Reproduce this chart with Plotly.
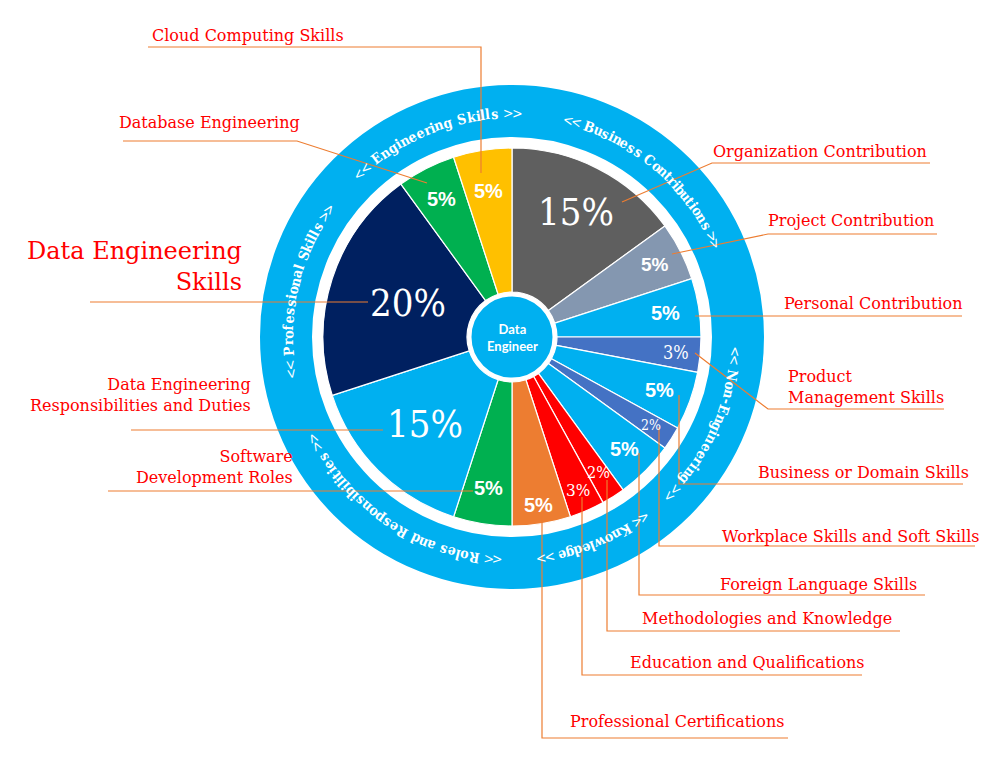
import math
import plotly.graph_objects as go

# ---------------- data ----------------
categories = [
    "Organization Contribution", "Project Contribution", "Personal Contribution",
    "Product Management Skills", "Business or Domain Skills",
    "Workplace Skills and Soft Skills", "Foreign Language Skills",
    "Methodologies and Knowledge", "Education and Qualifications",
    "Professional Certifications", "Software Development Roles",
    "Data Engineering Responsibilities and Duties", "Data Engineering Skills",
    "Database Engineering", "Cloud Computing Skills",
]
shares = [15, 5, 5, 3, 5, 2, 5, 2, 3, 5, 5, 15, 20, 5, 5]
display_labels = [
    "Organization Contribution", "Project Contribution", "Personal Contribution",
    "Product<br>Management Skills", "Business or Domain Skills",
    "Workplace Skills and Soft Skills", "Foreign Language Skills",
    "Methodologies and Knowledge", "Education and Qualifications",
    "Professional Certifications", "Software<br>Development Roles",
    "Data Engineering<br>Responsibilities and Duties", "Data Engineering<br>Skills",
    "Database Engineering", "Cloud Computing Skills",
]
group_labels = [
    "<< Business Contributions >>", "<< Non-Engineering >>", "<< Knowledge >>",
    "<< Roles and Responsibilities >>", "<< Professional Skills >>",
    "<< Engineering Skills >>",
]
center_label = "Data<br>Engineer"

# ---------------- styles / layout ----------------
W, H = 989, 758
CX, CY = 512, 337
R_PIE, R_HOLE, R_CENTER = 189, 45, 42
RING_MID, RING_W, TEXT_R = 226, 52, 224

LIGHT = "#00b0f0"
slice_colors = ["#5f5f5f", "#8497b0", LIGHT, "#4472c4", LIGHT, "#4472c4", LIGHT,
                "#ff0000", "#ff0000", "#ed7d31", "#00b050", LIGHT, "#002060",
                "#00b050", "#ffc000"]
pct_r = [0.74, 0.85, 0.82, 0.87, 0.83, 0.87, 0.84, 0.85, 0.88, 0.90, 0.81, 0.65, 0.58, 0.82, 0.78]
pct_size = [38, 19, 20, 18, 20, 14, 20, 16, 17, 20, 20, 38, 38, 20, 20]
pct_kind = ["light", "bold", "bold", "serif", "bold", "serif", "bold", "serif", "serif",
            "bold", "bold", "light", "light", "bold", "bold"]

PCT_SERIF = "DejaVu Serif Condensed, DejaVu Serif, serif"
SERIF = "DejaVu Serif, serif"
RING_FONT = "DejaVu Serif Condensed, DejaVu Serif, serif"
BOLD_SANS = "Liberation Sans, Arial, sans-serif"
RED = "#ff0000"
LEADER = "#ed7d31"

label_pos = [
    (711, 151, "left", 16), (766, 220, "left", 16), (782, 303, "left", 16),
    (786, 387, "left", 16), (756, 472, "left", 16), (720, 536, "left", 16),
    (718, 584, "left", 16), (640, 618, "left", 16), (628, 662, "left", 16),
    (568, 721, "left", 16), (295, 467, "right", 16), (253, 395, "right", 16),
    (244, 266, "right", 24), (117, 122, "left", 16), (150, 35, "left", 16),
]
leader_paths = [
    "M930,163 L712,163 L622,202",
    "M937,234 L768,234 L672,254",
    "M962,316 L695,316",
    "M944,409 L768,409 L695,353",
    "M963,484 L679,484 L679,395",
    "M975,546 L659,546 L659,427",
    "M925,595 L639,595 L639,453",
    "M900,631 L607,631 L607,480",
    "M862,675 L582,675 L582,497",
    "M788,738 L542,738 L542,516",
    "M108,491 L473,491",
    "M131,430 L383,430",
    "M90,302 L368,302",
    "M123,141 L297,141 L427,183",
    "M148,47 L481,47 L481,173",
]
ring_span = [(14.6, 65.4), (93.8, 135.4), (143.8, 172.5), (183.8, 243.0),
             (260.7, 305.0), (316.8, 361.3)]

fig = go.Figure()
fig.add_trace(go.Scatter(x=[0, W], y=[0, H], mode="markers",
                         marker=dict(opacity=0), hoverinfo="skip", showlegend=False))
fig.add_trace(go.Pie(
    labels=categories, values=shares, sort=False, direction="clockwise", rotation=0,
    hole=R_HOLE / R_PIE, textinfo="none", hoverinfo="label+percent",
    marker=dict(colors=slice_colors, line=dict(color="white", width=1.2)),
    domain=dict(x=[(CX - R_PIE) / W, (CX + R_PIE) / W],
                y=[1 - (CY + R_PIE) / H, 1 - (CY - R_PIE) / H]),
    showlegend=False,
))

shapes = []
shapes.append(dict(type="circle", xref="x", yref="y", layer="below",
                   x0=CX - RING_MID, x1=CX + RING_MID, y0=CY - RING_MID, y1=CY + RING_MID,
                   line=dict(color=LIGHT, width=RING_W)))
shapes.append(dict(type="circle", xref="x", yref="y", layer="above",
                   x0=CX - R_CENTER, x1=CX + R_CENTER, y0=CY - R_CENTER, y1=CY + R_CENTER,
                   fillcolor=LIGHT, line=dict(color="white", width=3)))
for p in leader_paths:
    shapes.append(dict(type="path", xref="x", yref="y", layer="above", path=p,
                       line=dict(color=LEADER, width=1.2)))

annotations = []
annotations.append(dict(x=CX, y=CY, xref="x", yref="y", text="<b>" + center_label + "</b>",
                        showarrow=False, font=dict(family="Lato, Open Sans, sans-serif",
                                                   size=13, color="white"),
                        align="center"))
total = sum(shares)
cum = 0
for i, v in enumerate(shares):
    mid = (cum + v / 2) / total * 2 * math.pi
    cum += v
    r = pct_r[i] * R_PIE
    x = CX + r * math.sin(mid)
    y = CY - r * math.cos(mid)
    if pct_kind[i] == "bold":
        txt, fam = "<b>%d%%</b>" % v, BOLD_SANS
    else:
        txt, fam = "%d%%" % v, PCT_SERIF
    annotations.append(dict(x=x, y=y, xref="x", yref="y", text=txt, showarrow=False,
                            font=dict(family=fam, size=pct_size[i], color="white")))
for i, lab in enumerate(display_labels):
    x, y, anc, sz = label_pos[i]
    annotations.append(dict(x=x, y=y, xref="x", yref="y", text=lab, showarrow=False,
                            xanchor=anc, yanchor="middle", align=anc,
                            font=dict(family=SERIF, size=sz, color=RED)))


def char_w(c):
    if c in "il.j'": return 0.34
    if c in "tfr": return 0.47
    if c == " ": return 0.33
    if c == "-": return 0.42
    if c in "<>": return 0.62
    if c in "mw": return 0.92
    if c.isupper(): return 0.78
    return 0.62


for text, (a0, a1) in zip(group_labels, ring_span):
    ws = [char_w(c) for c in text]
    centers = []
    acc = 0
    for w_ in ws:
        centers.append(acc + w_ / 2)
        acc += w_
    c0, c1 = centers[0], centers[-1]
    for c, cc in zip(text, centers):
        if c == " ":
            continue
        ang = a0 + (cc - c0) / (c1 - c0) * (a1 - a0)
        rad = math.radians(ang)
        x = CX + TEXT_R * math.sin(rad)
        y = CY - TEXT_R * math.cos(rad)
        ta = ((ang + 180) % 360) - 180
        ch = c.replace("<", "&lt;").replace(">", "&gt;")
        if c not in "<>":
            ch = "<b>" + ch + "</b>"
        annotations.append(dict(x=x, y=y, xref="x", yref="y", text=ch, showarrow=False,
                                textangle=ta, xanchor="center", yanchor="middle",
                                font=dict(family=RING_FONT, size=14, color="white")))

fig.update_layout(
    width=W, height=H, margin=dict(l=0, r=0, t=0, b=0),
    paper_bgcolor="white", plot_bgcolor="white",
    xaxis=dict(range=[0, W], visible=False, fixedrange=True),
    yaxis=dict(range=[H, 0], visible=False, fixedrange=True),
    shapes=shapes, annotations=annotations, showlegend=False,
)
fig.write_html("out.html", config={"displayModeBar": False},
               post_script="document.body.style.margin='0px';document.body.style.overflow='hidden';")
